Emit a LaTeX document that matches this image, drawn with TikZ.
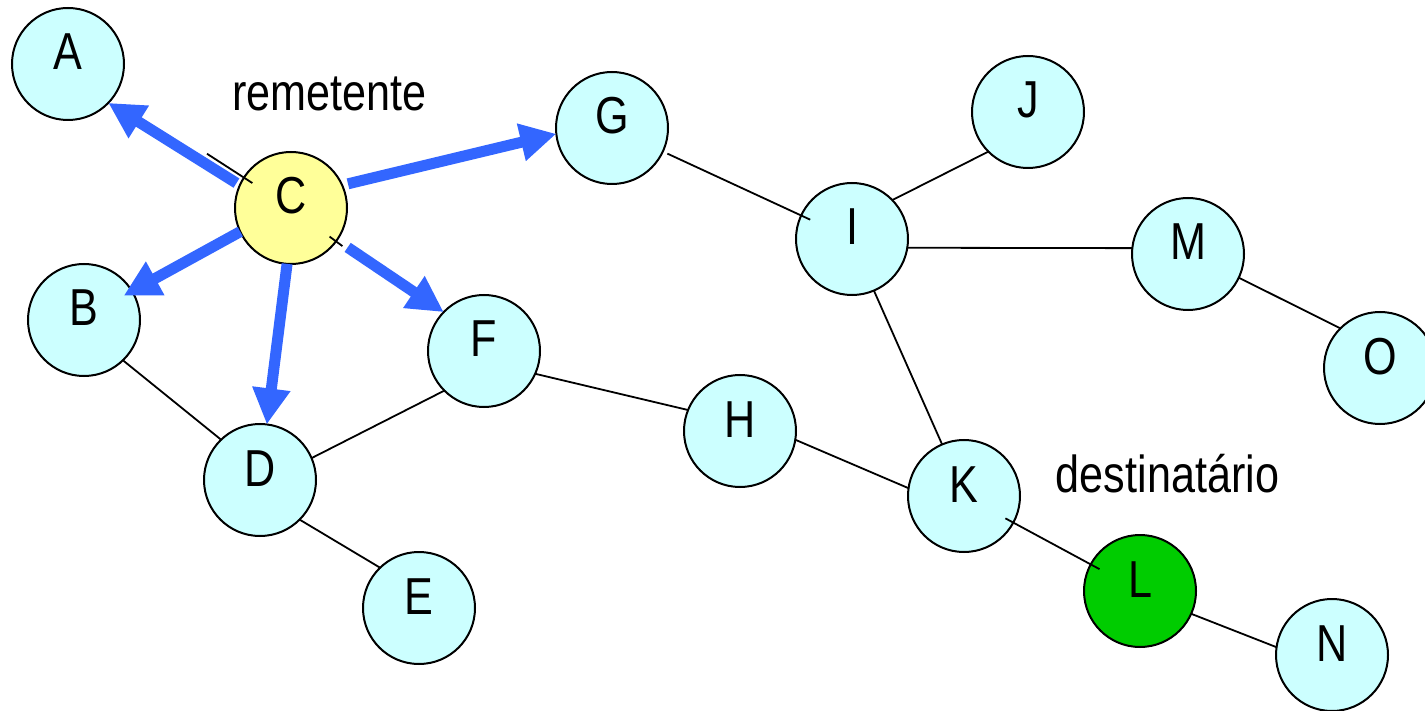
\documentclass[tikz,border=0pt]{standalone}
\usepackage{fontspec}
\setmainfont{Liberation Sans}[FakeStretch=0.83]
\usetikzlibrary{arrows.meta,calc}
\definecolor{nodecyan}{HTML}{CCFFFF}
\definecolor{nodeyellow}{HTML}{FFFF99}
\definecolor{nodegreen}{HTML}{00CC00}
\definecolor{arrowblue}{HTML}{3366FF}
\begin{document}
\begin{tikzpicture}[x=1pt,y=-1pt,
  vertex/.style={circle,draw=black,line width=2pt,fill=nodecyan,minimum size=112pt,
    inner sep=0pt,outer sep=0pt,font=\fontsize{52}{60}\selectfont,
    text height=37pt,text depth=25pt},
  sender/.style={vertex,fill=nodeyellow},
  receiver/.style={vertex,fill=nodegreen},
  caption/.style={anchor=base,inner sep=0pt,font=\fontsize{52}{60}\selectfont},
  link/.style={draw=black,line width=1.8pt},
  flood/.style={draw=arrowblue,line width=11pt,-{Triangle[length=36pt,width=36pt]}}
]
\useasboundingbox (0,0) rectangle (1425,711);

\node[vertex]   (A) at (68,64)    {A};
\node[sender]   (C) at (291,208)  {C};
\node[vertex]   (G) at (612,128)  {G};
\node[vertex]   (J) at (1028,112) {J};
\node[vertex]   (I) at (852,239)  {I};
\node[vertex]   (M) at (1188,254) {M};
\node[vertex]   (O) at (1380,368) {O};
\node[vertex]   (B) at (84,320)   {B};
\node[vertex]   (F) at (484,351)  {F};
\node[vertex]   (H) at (740,431)  {H};
\node[vertex]   (D) at (260,480)  {D};
\node[vertex]   (K) at (964,496)  {K};
\node[vertex]   (E) at (419,608)  {E};
\node[receiver] (L) at (1140,591) {L};
\node[vertex]   (N) at (1332,655) {N};

\node[caption] (rem) at (329.5,111) {remetente};
\node[caption] (dst) at (1167.5,492) {destinatário};

% flooding arrows
\draw[flood,shorten <=4pt] (C.156) -- (A.-44);
\draw[flood,shorten <=6pt] (C.24) -- (G.186);
\draw[flood,shorten >=-9.5pt] (C.205) -- (B.31);
\draw[flood] (C.266) -- (D.83);
\draw[flood,shorten <=13pt] (C.-35) -- (F.136);

% thin links
\draw[link] ($(C.center)!46pt!(A.center)$) -- ($(C.center)!100pt!(A.center)$);
\draw[link] ($(C.center)!48pt!(F.center)$) -- ($(C.center)!64pt!(F.center)$);
\draw[link] ($(G.center)!61pt!(I.center)$) -- ($(I.center)!46pt!(G.center)$);
\draw[link] (I.44) -- (J.225);
\draw[link] (I.-9) -- (M.174);
\draw[link] (M.-25) -- (O.135);
\draw[link] (I.-67) -- (K.113);
\draw[link] ($(K.center)!47pt!(L.center)$) -- ($(L.center)!46pt!(K.center)$);
\draw[link] (L.-24) -- (N.172);
\draw[link] (B.-46) -- (D.134);
\draw[link] (D.23) -- (F.225);
\draw[link] (D.-45) -- (E.134);
\draw[link] (F.-24) -- (H.158);
\draw[link] (H.-9) -- (K.172);
\end{tikzpicture}
\end{document}
